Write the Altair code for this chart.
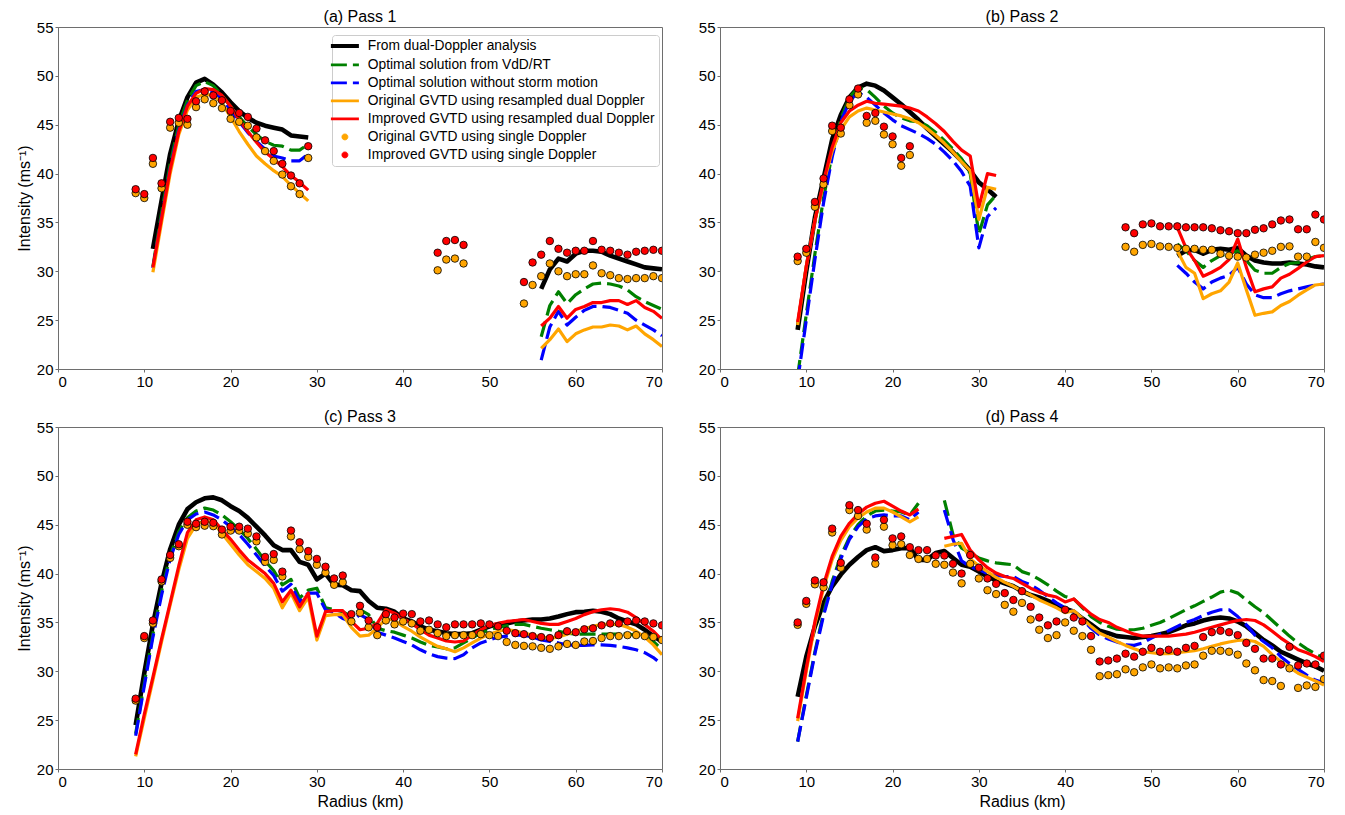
import json
import altair as alt
import pandas as pd

# ---------------- series definitions ----------------
SERIES = [
    "From dual-Doppler analysis",
    "Optimal solution from  VdD/RT",
    "Optimal solution without storm motion",
    "Original GVTD using resampled dual Doppler",
    "Improved GVTD using resampled dual Doppler",
    "Original GVTD using single Doppler",
    "Improved GVTD using single Doppler",
]
COLORS = ["#000000", "#008000", "#0000ff", "#ffa500", "#ff0000", "#ffa500", "#ff0000"]
DOT_SERIES = SERIES[5:]
X_TICKS = [0, 10, 20, 30, 40, 50, 60, 70]
Y_TICKS = [20, 25, 30, 35, 40, 45, 50, 55]
TITLES = ["(a) Pass 1", "(b) Pass 2", "(c) Pass 3", "(d) Pass 4"]

# Each series: list of (first radius in km, consecutive values at 1-km spacing)
# ---------------- (a) Pass 1 ----------------
A_BLACK = [(11, [32.3, 37.2, 42.0, 45.4, 47.8, 49.3, 49.7, 49.1, 48.3, 47.3, 46.4, 45.7, 45.2, 44.9, 44.7, 44.5, 43.9, 43.8, 43.7]),
           (56, [28.2, 30.2, 31.3, 31.0, 31.8, 32.1, 32.1, 32.0, 31.6, 31.3, 31.0, 30.7, 30.4, 30.3, 30.2])]
A_GREEN = [(11, [30.5, 36.0, 41.0, 45.0, 47.5, 49.0, 49.4, 49.0, 48.0, 46.9, 45.8, 44.8, 44.0, 43.3, 42.9, 42.8, 42.4, 42.4, 43.0]),
           (56, [23.3, 26.5, 27.9, 26.7, 27.6, 28.2, 28.7, 28.8, 28.7, 28.5, 28.1, 27.4, 26.9, 26.5, 26.1])]
A_BLUE = [(11, [30.3, 35.5, 40.5, 44.5, 47.0, 48.4, 48.6, 48.4, 47.6, 46.5, 45.3, 44.2, 43.3, 42.5, 41.8, 41.6, 41.3, 41.3, 42.0]),
          (56, [20.9, 24.3, 25.9, 24.5, 25.3, 26.0, 26.4, 26.4, 26.3, 26.0, 25.7, 25.0, 24.5, 24.0, 23.4])]
A_ORANGE = [(11, [29.9, 35.0, 40.0, 44.0, 46.5, 47.8, 48.1, 48.0, 47.2, 45.8, 44.3, 43.0, 41.8, 41.0, 40.3, 39.7, 38.8, 38.0, 37.2]),
            (56, [22.1, 23.0, 24.1, 22.8, 23.6, 24.0, 24.3, 24.3, 24.5, 24.4, 24.0, 24.4, 23.6, 23.0, 22.3])]
A_RED = [(11, [30.4, 35.4, 40.4, 44.3, 46.9, 48.2, 48.7, 48.6, 48.0, 46.9, 45.5, 44.3, 43.2, 42.2, 41.5, 40.7, 39.8, 39.1, 38.3]),
         (56, [24.4, 25.2, 26.4, 25.2, 26.1, 26.4, 26.8, 26.8, 27.0, 27.0, 26.6, 27.0, 26.3, 25.9, 25.2])]
A_ORANGE_DOTS = [(9, [38.0, 37.5, 41.0, 38.5, 44.7, 45.2, 45.0, 46.8, 47.6, 47.2, 46.7, 45.6, 45.3, 44.9, 43.7, 42.3, 41.3, 39.9, 38.7, 37.9, 41.6]),
                 (44, [30.1, 31.2, 31.3, 30.8]),
                 (54, [26.7, 28.6, 29.5, 30.8, 30.0, 29.5, 29.7, 29.7, 30.6, 29.8, 29.6, 29.3, 29.2, 29.3, 29.3, 29.5, 29.3])]
A_RED_DOTS = [(9, [38.4, 37.9, 41.6, 39.0, 45.3, 45.7, 45.6, 47.4, 48.4, 48.0, 47.5, 46.4, 46.2, 45.8, 44.6, 43.4, 42.3, 41.0, 39.8, 39.0, 42.8]),
              (44, [31.9, 33.1, 33.2, 32.7]),
              (54, [28.9, 30.9, 31.7, 33.1, 32.3, 31.9, 32.1, 32.1, 33.1, 32.2, 32.1, 31.9, 31.7, 32.0, 32.1, 32.2, 32.1])]

# ---------------- (b) Pass 2 ----------------
B_BLACK = [(9, [24.0, 30.0, 35.5, 39.5, 43.5, 46.0, 47.8, 48.8, 49.2, 49.0, 48.5, 47.8, 47.1, 46.3, 45.5, 44.6, 43.8, 43.0, 42.2, 41.3, 40.3, 39.1, 38.4, 37.6]),
           (53, [31.6, 32.1, 32.2, 31.8, 32.2, 32.3, 32.2, 32.4, 31.6, 31.1, 30.9, 30.8, 30.8, 30.9, 30.8, 30.7, 30.5, 30.4])]
B_GREEN = [(9, [19.3, 25.6, 31.8, 37.5, 42.0, 45.6, 47.8, 48.8, 48.6, 47.8, 46.9, 46.2, 45.7, 45.4, 45.3, 44.9, 44.2, 43.4, 42.5, 41.5, 40.0, 33.8, 36.8, 37.8]),
           (53, [32.8, 32.1, 31.1, 30.4, 31.1, 31.6, 31.8, 32.1, 31.1, 30.1, 29.8, 29.8, 30.4, 30.8, 30.9, 31.2, 31.5, 31.6])]
B_BLUE = [(9, [18.8, 25.0, 31.2, 37.0, 41.7, 45.3, 47.4, 48.3, 47.8, 47.0, 46.2, 45.5, 44.9, 44.5, 44.1, 43.6, 43.0, 42.2, 41.3, 40.2, 38.7, 32.4, 35.6, 36.5]),
          (53, [30.6, 29.8, 28.9, 28.2, 28.9, 29.3, 29.6, 30.4, 28.7, 27.6, 27.3, 27.3, 27.7, 28.0, 28.2, 28.4, 28.6, 28.7])]
B_ORANGE = [(9, [24.5, 30.5, 35.2, 39.0, 42.3, 44.5, 45.8, 46.4, 46.7, 46.5, 46.3, 46.1, 45.9, 45.6, 45.2, 44.6, 43.9, 43.1, 42.2, 41.2, 40.3, 35.3, 38.6, 38.4]),
            (53, [32.1, 30.4, 29.8, 27.2, 27.7, 28.0, 28.9, 30.85, 28.1, 25.5, 25.7, 25.85, 26.5, 26.9, 27.55, 28.1, 28.6, 28.7])]
B_RED = [(9, [24.8, 30.5, 35.2, 39.2, 42.7, 45.2, 46.4, 47.0, 47.4, 47.2, 47.1, 47.0, 46.9, 46.7, 46.4, 45.8, 45.1, 44.3, 43.3, 42.4, 41.8, 36.6, 40.0, 39.8]),
         (53, [34.5, 32.4, 31.1, 29.5, 29.9, 30.4, 31.2, 33.3, 30.4, 27.9, 28.2, 28.4, 29.3, 29.7, 30.3, 30.95, 31.5, 31.6])]
B_ORANGE_DOTS = [(9, [31.05, 31.9, 36.6, 38.9, 44.35, 44.1, 47.0, 48.1, 45.2, 45.4, 44.0, 43.0, 40.8, 41.9]),
                 (47, [32.5, 32.0, 32.7, 32.8, 32.55, 32.5, 32.4, 32.3, 32.3, 32.2, 32.2, 31.8, 31.6, 31.5, 31.4, 31.7, 31.9, 32.1, 32.5, 32.55, 31.5, 31.5, 33.0, 32.4])]
B_RED_DOTS = [(9, [31.5, 32.3, 37.1, 39.5, 44.9, 44.7, 47.6, 48.7, 45.9, 46.2, 44.8, 43.8, 41.6, 42.8]),
              (47, [34.5, 33.9, 34.8, 34.9, 34.6, 34.6, 34.6, 34.5, 34.5, 34.5, 34.4, 34.2, 34.1, 33.9, 33.9, 34.25, 34.4, 34.8, 35.2, 35.3, 34.3, 34.3, 35.8, 35.3])]

# ---------------- (c) Pass 3 ----------------
C_BLACK = [(9, [24.5, 29.8, 34.8, 39.0, 42.5, 45.0, 46.6, 47.3, 47.7, 47.8, 47.5, 46.9, 46.4, 45.7, 44.8, 43.9, 42.9, 42.4, 42.4, 41.2,
                40.9, 39.4, 40.0, 38.85, 38.8, 38.3, 38.2, 37.2, 36.5, 36.4, 36.1, 35.4, 35.1, 34.6, 34.25, 34.1, 33.9, 33.8, 33.8, 33.9,
                34.25, 34.6, 34.8, 34.9, 35.1, 35.2, 35.3, 35.3, 35.4, 35.6, 35.85, 36.05, 36.1, 36.2, 36.1, 35.85, 35.4, 35.1, 34.8, 34.25,
                33.6, 33.05])]
C_GREEN = [(9, [23.6, 28.8, 33.8, 38.2, 41.8, 44.3, 45.7, 46.4, 46.7, 46.5, 46.0, 45.3, 44.5, 43.6, 42.5, 41.3, 40.3, 38.85, 39.4, 37.5,
                38.3, 38.5, 36.5, 36.3, 36.1, 35.6, 36.3, 35.8, 34.4, 34.15, 34.0, 33.7, 33.4, 33.0, 32.65, 32.5, 32.3, 32.4, 32.9, 33.4,
                33.9, 34.25, 34.5, 34.65, 34.8, 34.8, 34.6, 34.4, 34.25, 34.1, 33.9, 33.8, 33.8, 33.8, 33.8, 33.8, 33.8, 33.8, 33.7, 33.6,
                33.05, 32.2])]
C_BLUE = [(9, [23.4, 28.5, 33.5, 37.8, 41.5, 44.0, 45.5, 46.1, 46.3, 46.0, 45.5, 44.8, 44.0, 43.0, 41.9, 40.8, 39.8, 38.2, 38.9, 37.1,
               38.0, 38.0, 36.3, 36.0, 35.4, 35.1, 35.8, 35.3, 34.0, 33.7, 33.4, 33.05, 32.7, 32.2, 31.8, 31.5, 31.35, 31.3, 31.7, 32.4,
               32.9, 33.2, 33.5, 33.6, 33.7, 33.7, 33.5, 33.2, 33.05, 32.9, 32.7, 32.65, 32.65, 32.7, 32.7, 32.65, 32.55, 32.4, 32.2, 31.9,
               31.4, 30.7])]
C_ORANGE = [(9, [21.3, 25.2, 29.1, 33.0, 36.8, 40.4, 43.6, 45.0, 45.4, 45.2, 44.1, 43.0, 41.9, 40.9, 40.2, 39.5, 38.5, 36.5, 38.0, 36.2,
                 37.6, 33.2, 35.7, 35.8, 35.8, 34.5, 33.6, 33.7, 34.4, 35.4, 35.2, 34.6, 34.1, 33.5, 33.0, 32.55, 32.3, 32.0, 32.4, 32.9,
                 33.4, 33.8, 34.1, 34.25, 34.15, 33.9, 33.7, 33.5, 33.4, 33.5, 33.8, 34.1, 34.35, 34.6, 34.8, 34.8, 34.8, 34.5, 34.1, 33.5,
                 32.7, 31.7])]
C_RED = [(9, [21.5, 25.6, 29.4, 33.3, 37.0, 40.8, 44.2, 45.5, 45.8, 45.5, 44.5, 43.5, 42.4, 41.4, 40.7, 40.0, 39.0, 37.1, 38.3, 36.6,
              38.0, 33.6, 36.1, 36.2, 36.2, 35.1, 34.25, 34.4, 34.9, 36.3, 35.95, 35.4, 34.9, 34.25, 33.7, 33.4, 33.1, 33.0, 33.1, 33.7,
              34.25, 34.7, 34.9, 35.1, 35.2, 35.3, 35.1, 34.9, 34.8, 34.8, 35.1, 35.4, 35.8, 36.1, 36.3, 36.4, 36.3, 36.05, 35.5, 34.8,
              34.1, 33.2])]
C_ORANGE_DOTS = [(9, [27.0, 33.4, 34.9, 39.2, 41.6, 42.8, 45.0, 44.75, 44.9, 44.85, 44.0, 44.4, 44.4, 44.1, 43.3, 41.2, 41.4, 39.7, 43.8, 42.5,
                      41.7, 40.9, 40.1, 38.85, 39.1, 35.1, 36.0, 34.5, 33.7, 35.2, 34.8, 35.1, 34.9, 34.15, 34.25, 33.9, 33.6, 33.7, 33.7, 33.7,
                      33.8, 33.7, 33.6, 33.0, 32.7, 32.6, 32.55, 32.4, 32.3, 32.55, 32.8, 32.7, 33.05, 33.1, 33.4, 33.6, 33.6, 33.7, 33.7, 33.6,
                      33.5, 33.2])]
C_RED_DOTS = [(9, [27.2, 33.6, 35.2, 39.4, 41.9, 43.0, 45.3, 45.1, 45.3, 45.2, 44.5, 44.8, 44.8, 44.6, 43.8, 41.7, 42.0, 40.2, 44.4, 43.2,
                   42.3, 41.5, 40.7, 39.5, 39.8, 35.85, 36.7, 35.2, 34.5, 35.85, 35.5, 35.9, 35.85, 35.1, 35.2, 34.8, 34.5, 34.8, 34.8, 34.8,
                   34.9, 34.8, 34.6, 34.15, 33.9, 33.8, 33.6, 33.5, 33.4, 33.7, 34.1, 34.0, 34.3, 34.4, 34.7, 34.9, 34.9, 35.1, 35.2, 35.1,
                   34.9, 34.7])]

# ---------------- (d) Pass 4 ----------------
D_BLACK = [(9, [27.4, 31.5, 34.6, 37.0, 38.7, 39.9, 40.9, 41.7, 42.4, 42.7, 42.3, 42.4, 42.6, 42.6, 41.4, 41.4, 42.1, 42.3, 41.6, 40.9,
                40.7, 40.2, 39.7, 39.3, 39.0, 38.7, 38.2, 37.8, 37.55, 37.2, 36.8, 36.4, 36.1, 35.4, 34.8, 34.15, 33.9, 33.6, 33.5, 33.4,
                33.5, 33.6, 33.8, 34.0, 34.35, 34.7, 34.9, 35.2, 35.4, 35.5, 35.4, 35.1, 34.6, 33.9, 33.2, 32.65, 32.0, 31.6, 31.2, 30.8,
                30.5, 30.05])]
D_GREEN = [(9, [22.8, 27.5, 32.0, 36.0, 39.2, 41.8, 43.7, 45.0, 45.9, 46.4, 46.5, 46.4, 46.3, 46.0, 47.2]),
           (26, [47.5, 44.0, 42.6, 42.1, 41.6, 41.3, 41.1, 41.0, 40.9, 40.2, 39.9, 39.4, 38.85, 38.2, 37.65, 37.4, 36.5, 35.6, 35.0, 34.6,
                 34.3, 34.25, 34.25, 34.4, 34.7, 35.0, 35.4, 35.85, 36.3, 36.7, 37.15, 37.6, 38.1, 38.3, 38.0, 37.3, 36.6, 36.0, 35.2, 34.4,
                 33.6, 32.9, 32.3, 31.8, 31.3])]
D_BLUE = [(9, [22.8, 27.3, 31.8, 35.7, 38.9, 41.5, 43.5, 44.8, 45.6, 45.9, 46.0, 45.9, 45.9, 45.5, 46.3]),
          (26, [46.5, 43.5, 41.3, 40.7, 40.4, 40.0, 39.8, 39.7, 39.7, 39.2, 38.85, 38.3, 37.65, 37.0, 36.5, 36.1, 35.3, 34.4, 33.7, 33.3,
                33.0, 32.7, 32.65, 32.9, 33.4, 33.8, 34.15, 34.6, 35.0, 35.3, 35.7, 36.05, 36.3, 36.3, 35.6, 34.75, 33.7, 33.05, 32.4, 31.5,
                30.8, 30.2, 29.6, 29.1, 28.8])]
D_ORANGE = [(9, [24.9, 30.0, 34.8, 38.5, 41.4, 43.4, 44.8, 45.7, 46.3, 46.7, 46.7, 46.3, 45.8, 45.3, 45.8]),
            (26, [42.8, 43.0, 43.1, 41.5, 40.8, 40.2, 39.6, 39.1, 38.7, 38.2, 37.8, 37.3, 36.9, 36.5, 36.0, 36.2, 35.4, 34.6, 33.9, 33.5,
                  33.05, 32.65, 32.3, 32.0, 31.9, 31.8, 31.8, 31.9, 32.0, 32.1, 32.3, 32.55, 32.8, 33.0, 33.15, 33.2, 33.05, 32.55, 31.7, 31.0,
                  30.4, 29.8, 29.4, 29.0, 28.6])]
D_RED = [(9, [25.2, 30.3, 35.1, 38.85, 41.75, 43.8, 45.15, 46.1, 46.8, 47.2, 47.4, 46.9, 46.4, 46.0, 46.6]),
         (26, [43.6, 43.8, 44.0, 42.4, 41.4, 40.6, 40.05, 39.7, 39.5, 39.0, 38.5, 38.1, 37.8, 37.6, 37.1, 37.4, 36.6, 35.85, 35.3, 35.0,
               34.5, 34.15, 33.8, 33.6, 33.6, 33.6, 33.6, 33.7, 33.8, 34.0, 34.25, 34.5, 34.75, 35.0, 35.2, 35.3, 35.2, 34.75, 34.1, 33.4,
               32.8, 32.2, 31.9, 31.5, 31.0])]
D_ORANGE_DOTS = [(9, [34.75, 36.9, 38.9, 38.6, 44.2, 40.6, 46.5, 45.9, 44.5, 41.0, 44.8, 42.9, 43.0, 41.9, 41.5, 41.5, 41.0, 40.9, 40.1, 39.0,
                      41.0, 39.5, 38.3, 37.9, 36.8, 36.1, 37.0, 35.3, 34.25, 33.4, 33.7, 35.0, 34.15, 33.6, 32.2, 29.5, 29.6, 29.7, 30.2, 29.9,
                      30.4, 30.7, 30.3, 30.4, 30.3, 30.6, 30.7, 31.6, 32.1, 32.1, 32.0, 31.7, 30.8, 30.1, 29.1, 29.0, 28.5, 30.3, 28.3, 28.55,
                      28.4, 29.2])]
D_RED_DOTS = [(9, [35.0, 37.2, 39.3, 39.1, 44.6, 41.1, 47.0, 46.5, 45.1, 41.65, 45.5, 43.6, 43.8, 42.7, 42.4, 42.4, 41.85, 41.85, 41.0, 40.0,
                   41.9, 40.6, 39.5, 38.95, 38.0, 37.3, 38.2, 36.6, 35.5, 34.7, 35.1, 36.3, 35.5, 35.1, 33.6, 31.0, 31.1, 31.3, 31.8, 31.5,
                   32.0, 32.4, 32.0, 32.2, 32.0, 32.4, 32.6, 33.5, 34.0, 34.15, 34.0, 33.7, 32.9, 32.3, 31.3, 31.3, 30.7, 32.5, 30.6, 30.8,
                   30.7, 31.6])]

PANEL_SERIES = [
    [A_BLACK, A_GREEN, A_BLUE, A_ORANGE, A_RED, A_ORANGE_DOTS, A_RED_DOTS],
    [B_BLACK, B_GREEN, B_BLUE, B_ORANGE, B_RED, B_ORANGE_DOTS, B_RED_DOTS],
    [C_BLACK, C_GREEN, C_BLUE, C_ORANGE, C_RED, C_ORANGE_DOTS, C_RED_DOTS],
    [D_BLACK, D_GREEN, D_BLUE, D_ORANGE, D_RED, D_ORANGE_DOTS, D_RED_DOTS],
]

FONT = "Liberation Sans"
FRAME = "#6e6e6e"
PLOT_W, PLOT_H = 604, 342


def build_frame(series_list):
    rows = []
    for name, segments in zip(SERIES, series_list):
        for k, (start, vals) in enumerate(segments):
            for i, v in enumerate(vals):
                rows.append({"series": name, "seg": k, "radius": start + i, "value": v})
    return pd.DataFrame(rows)


def lookup_expr(values, default):
    expr = json.dumps(default)
    for s, v in reversed(list(zip(SERIES, values))):
        expr = f"(datum.value === {json.dumps(s)}) ? {json.dumps(v)} : ({expr})"
    return expr


is_dot = f"indexof({json.dumps(DOT_SERIES)}, datum.value) >= 0"
is_dash = f"indexof({json.dumps(SERIES[1:3])}, datum.value) >= 0"
LEGEND = alt.Legend(
    title=None,
    orient="none",
    legendX=274,
    legendY=8,
    labelFont=FONT,
    labelFontSize=13.8,
    labelColor="black",
    labelLimit=500,
    symbolSize=36,
    symbolOffset=2,
    labelOffset=16,
    rowPadding=3.0,
    padding=4,
    fillColor="white",
    strokeColor="#cccccc",
    cornerRadius=3,
    symbolType={"expr": f"({is_dot}) ? 'circle' : 'M-4.67,0H4.67'"},
    symbolDash={"expr": f"({is_dash}) ? [16, 6] : [1, 0]"},
    symbolStrokeWidth={"expr": lookup_expr([4, 2.8, 2.8, 2.8, 2.8, 0.8, 0.8], 1)},
    symbolFillColor={"expr": lookup_expr(["transparent"] * 5 + ["#ffa500", "#ff0000"], "transparent")},
    symbolStrokeColor={"expr": lookup_expr(["black", "green", "blue", "orange", "red", "black", "black"], "black")},
    symbolOpacity=1,
)

LINE_STYLE = [(4.6, None), (3.2, [16, 6]), (3.2, [16, 6]), (3.2, None), (3.2, None)]


def make_panel(idx):
    df = build_frame(PANEL_SERIES[idx])
    show_legend = idx == 0
    x_title = "Radius (km)" if idx >= 2 else None
    y_title = "Intensity (ms⁻¹)" if idx % 2 == 0 else None
    x = alt.X("radius:Q", scale=alt.Scale(domain=[0, 70], nice=False, zero=False),
              axis=alt.Axis(values=X_TICKS, title=x_title))
    y = alt.Y("value:Q", scale=alt.Scale(domain=[20, 55], nice=False, zero=False),
              axis=alt.Axis(values=Y_TICKS, title=y_title))
    color = alt.Color("series:N", scale=alt.Scale(domain=SERIES, range=COLORS),
                      legend=LEGEND if show_legend else None)
    layers = []
    for s, (w, dash) in zip(SERIES[:5], LINE_STYLE):
        kw = dict(strokeWidth=w, clip=True, strokeCap="butt", strokeJoin="round")
        if dash:
            kw["strokeDash"] = dash
        layers.append(
            alt.Chart().transform_filter(alt.datum.series == s)
            .mark_line(**kw).encode(x=x, y=y, color=color, detail="seg:N")
        )
    for s in DOT_SERIES:
        layers.append(
            alt.Chart().transform_filter(alt.datum.series == s)
            .mark_circle(size=56, stroke="black", strokeWidth=0.8, opacity=1, clip=True)
            .encode(x=x, y=y, color=color)
        )
    return alt.layer(*layers, data=df).properties(
        width=PLOT_W, height=PLOT_H,
        title=alt.TitleParams(TITLES[idx], fontSize=16, fontWeight="normal", font=FONT,
                              anchor="middle", offset=-5, color="black", frame="group"),
    )


chart = alt.concat(
    *[make_panel(i) for i in range(4)],
    columns=2,
    spacing={"row": 58, "column": 58},
    bounds="flush",
).resolve_legend(color="independent").properties(
    padding={"left": 7, "top": 0, "right": 6, "bottom": 0}
).configure(
    font=FONT
).configure_view(
    stroke=FRAME, strokeWidth=1
).configure_axis(
    grid=False,
    domainColor=FRAME,
    tickColor=FRAME,
    tickSize=3,
    labelFont=FONT,
    labelFontSize=15,
    labelColor="black",
    labelPadding=2,
    titleFont=FONT,
    titleFontSize=16,
    titleFontWeight="normal",
    titleColor="black",
    titlePadding=4,
)

chart.save("out.html", embed_options={"renderer": "svg", "actions": False})
